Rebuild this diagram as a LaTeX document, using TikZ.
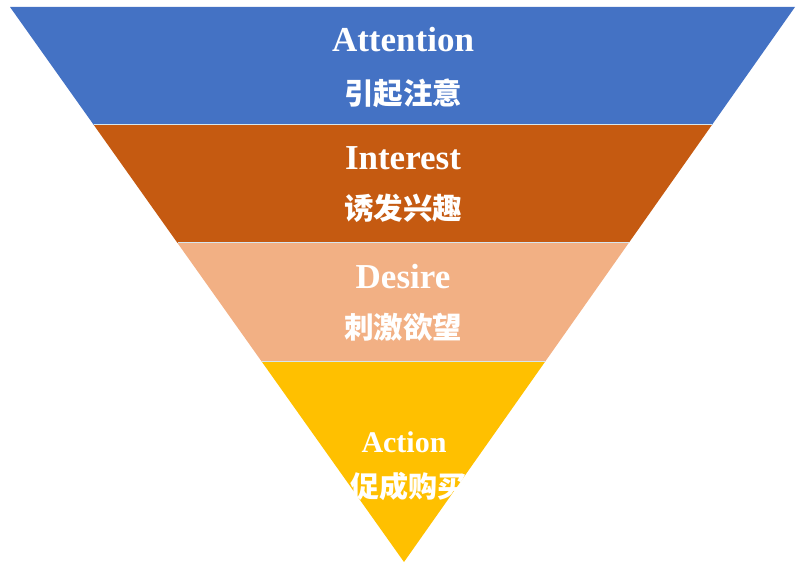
\documentclass[tikz,border=0pt]{standalone}
\usepackage{fontspec}
\setmainfont{Liberation Serif}
\newfontfamily\cjk{Noto Sans CJK SC}
\usepackage{tikz}
\definecolor{attn}{HTML}{4472C4}
\definecolor{intr}{HTML}{C55A11}
\definecolor{desr}{HTML}{F2B084}
\definecolor{actn}{HTML}{FFC000}
\definecolor{sep}{HTML}{D6E6EE}

\begin{document}
\begin{tikzpicture}[x=1pt, y=-1pt,
  en/.style={text=white, anchor=base, font=\bfseries\fontsize{35}{40}\selectfont},
  zh/.style={text=white, anchor=base, font=\cjk\bfseries\fontsize{29.5}{33}\selectfont},
  sepline/.style={draw=sep, line width=1pt}]
  \useasboundingbox (0,0) rectangle (804,572);
  \fill[attn] (10,7) -- (795,7) -- (711.9,125) -- (93.8,125) -- cycle;
  \fill[intr] (93.8,125) -- (711.9,125) -- (628.7,243) -- (177.5,243) -- cycle;
  \fill[desr] (177.5,243) -- (628.7,243) -- (544.9,362) -- (262,362) -- cycle;
  \fill[actn] (262,362) -- (544.9,362) -- (404,562) -- cycle;
  \draw[sepline] (93.8,125) -- (711.9,125);
  \draw[sepline] (177.5,243) -- (628.7,243);
  \draw[sepline] (262,362) -- (544.9,362);
  % labels
  \node[en] (attention) at (403,52) {Attention};
  \node[zh] (attentionzh) at (403,105) {引起注意};
  \node[en] (interest) at (403,170) {Interest};
  \node[zh] (interestzh) at (403,220) {诱发兴趣};
  \node[en] (desire) at (403,289) {Desire};
  \node[zh] (desirezh) at (403,339) {刺激欲望};
  \node[en, font=\bfseries\fontsize{30}{34}\selectfont] (action) at (404,452) {Action};
  \node[zh, font=\cjk\bfseries\fontsize{29}{33}\selectfont] (actionzh) at (408,497) {促成购买};
\end{tikzpicture}
\end{document}
